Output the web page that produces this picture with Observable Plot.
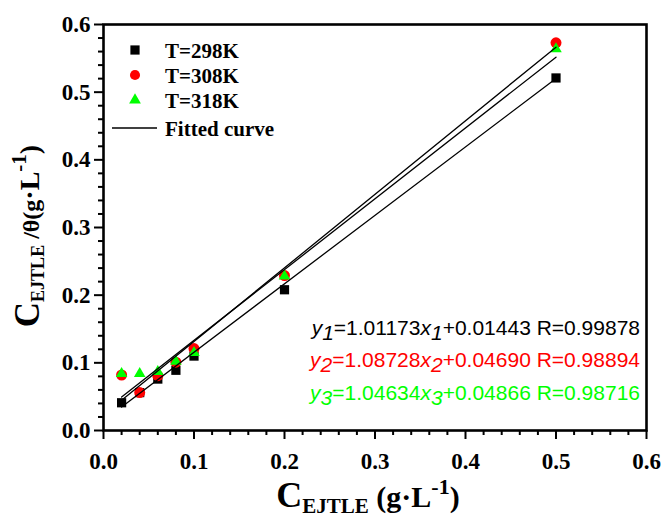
<!DOCTYPE html>
<html>
<head>
<meta charset="utf-8">
<script src="https://cdn.jsdelivr.net/npm/d3@7"></script>
<script src="https://cdn.jsdelivr.net/npm/@observablehq/plot@0.6"></script>
<style>
  html, body { margin: 0; padding: 0; background: #fff; }
  #chart { width: 665px; height: 518px; }
</style>
</head>
<body>
<div id="chart"></div>
<script>
// ---- data ----
const concentration = [0.02, 0.04, 0.06, 0.08, 0.10, 0.20, 0.50];
const y298 = [0.041, 0.056, 0.076, 0.089, 0.110, 0.208, 0.521];
const y308 = [0.082, 0.056, 0.081, 0.101, 0.121, 0.229, 0.573];
const y318 = [0.084, 0.084, 0.087, 0.102, 0.115, 0.228, 0.564];
// fitted lines (end points)
const fitX = [0.02, 0.50];
const fit298 = [0.0347, 0.5203];
const fit308 = [0.0446, 0.5665];
const fit318 = [0.0494, 0.5517];
const seriesNames = ["T=298K", "T=308K", "T=318K"];
const seriesColors = ["#000000", "#ff0000", "#00ff00"];
const majorTicks = [0.0, 0.1, 0.2, 0.3, 0.4, 0.5, 0.6];
const minorTicks = [0.02, 0.04, 0.06, 0.08, 0.12, 0.14, 0.16, 0.18, 0.22, 0.24, 0.26, 0.28,
                    0.32, 0.34, 0.36, 0.38, 0.42, 0.44, 0.46, 0.48, 0.52, 0.54, 0.56, 0.58];
const equations = [
  {y: "y", s: "1", a: "=1.01173", x: "x", b: "+0.01443 R=0.99878"},
  {y: "y", s: "2", a: "=1.08728", x: "x", b: "+0.04690 R=0.98894"},
  {y: "y", s: "3", a: "=1.04634", x: "x", b: "+0.04866 R=0.98716"}
];

const pts = (ys) => concentration.map((c, i) => ({x: c, y: ys[i]}));
const fit = (ys) => fitX.map((c, i) => ({x: c, y: ys[i]}));

const serif = "'Liberation Serif', 'Times New Roman', serif";
const sans = "'Liberation Sans', Arial, sans-serif";

const chart = Plot.plot({
  width: 665,
  height: 518,
  marginLeft: 103,
  marginRight: 19,
  marginTop: 24,
  marginBottom: 88,
  style: {fontFamily: serif, fontWeight: "bold", fontSize: "23px", background: "#fff", color: "#000"},
  x: {domain: [0, 0.6], axis: null},
  y: {domain: [0, 0.6], axis: null},
  marks: [
    Plot.axisX(majorTicks, {tickSize: 9, tickPadding: 13, strokeWidth: 2, tickFormat: d3.format(".1f"), label: null, fontSize: 23, fontWeight: "bold"}),
    Plot.axisX(minorTicks, {tickSize: 5, strokeWidth: 2, tickFormat: () => "", label: null}),
    Plot.axisY(majorTicks, {tickSize: 9, tickPadding: 4, strokeWidth: 2, tickFormat: d3.format(".1f"), label: null, fontSize: 23, fontWeight: "bold"}),
    Plot.axisY(minorTicks, {tickSize: 5, strokeWidth: 2, tickFormat: () => "", label: null}),
    Plot.dot(pts(y298), {x: "x", y: "y", symbol: "square", r: 5.2, fill: seriesColors[0], stroke: "none"}),
    Plot.dot(pts(y308), {x: "x", y: "y", symbol: "circle", r: 5.5, fill: seriesColors[1], stroke: "none"}),
    Plot.dot(pts(y318), {x: "x", y: "y", symbol: "triangle", r: 4.3, fill: seriesColors[2], stroke: "none"}),
    Plot.line(fit(fit298), {x: "x", y: "y", stroke: "#000", strokeWidth: 1.3}),
    Plot.line(fit(fit308), {x: "x", y: "y", stroke: "#000", strokeWidth: 1.3}),
    Plot.line(fit(fit318), {x: "x", y: "y", stroke: "#000", strokeWidth: 1.3}),
    Plot.frame({stroke: "#000", strokeWidth: 2.6})
  ]
});

document.getElementById("chart").appendChild(chart);

// ---- legend, equations and axis titles ----
const svg = d3.select(chart);
const g = svg.append("g").attr("text-anchor", "start");

// legend
const symbols = [d3.symbolSquare, d3.symbolCircle, d3.symbolTriangle];
const symSizes = [85, 80, 60];
seriesNames.forEach((name, i) => {
  const yy = 50 + i * 25;
  g.append("path")
    .attr("d", d3.symbol(symbols[i], symSizes[i])())
    .attr("transform", `translate(135,${yy})`)
    .attr("fill", seriesColors[i]);
  g.append("text")
    .attr("x", 165).attr("y", yy + 7.5)
    .attr("text-anchor", "start")
    .attr("font-family", serif).attr("font-weight", "bold").attr("font-size", 21)
    .attr("fill", "#000")
    .text(name);
});
g.append("line").attr("x1", 112).attr("x2", 157).attr("y1", 128).attr("y2", 128)
  .attr("stroke", "#000").attr("stroke-width", 1.3);
g.append("text")
  .attr("x", 165).attr("y", 135.5)
  .attr("text-anchor", "start")
  .attr("font-family", serif).attr("font-weight", "bold").attr("font-size", 21)
  .attr("fill", "#000")
  .text("Fitted curve");

// equations
const eqBase = [335, 367, 400];
equations.forEach((e, i) => {
  const t = g.append("text")
    .attr("x", 640).attr("y", eqBase[i])
    .attr("text-anchor", "end")
    .attr("font-family", sans).attr("font-weight", "normal").attr("font-size", 21)
    .attr("fill", seriesColors[i]);
  t.append("tspan").attr("font-style", "italic").text(e.y);
  t.append("tspan").attr("font-style", "italic").attr("dy", 5).text(e.s);
  t.append("tspan").attr("dy", -5).text(e.a);
  t.append("tspan").attr("font-style", "italic").text(e.x);
  t.append("tspan").attr("font-style", "italic").attr("dy", 5).text(e.s);
  t.append("tspan").attr("dy", -5).text(e.b);
});

// x axis title
const xt = g.append("text")
  .attr("x", 368).attr("y", 507)
  .attr("text-anchor", "middle")
  .attr("font-family", serif).attr("font-weight", "bold").attr("fill", "#000");
xt.append("tspan").attr("font-size", 36).text("C");
xt.append("tspan").attr("font-size", 21).attr("dy", 6).text("EJTLE");
xt.append("tspan").attr("font-size", 30).attr("dy", -6).text(" (g");
xt.append("tspan").attr("font-size", 30).text("·L");
xt.append("tspan").attr("font-size", 22).attr("dy", -13).text("-1");
xt.append("tspan").attr("font-size", 30).attr("dy", 13).text(")");

// y axis title
const yt = g.append("text")
  .attr("transform", "translate(39,236) rotate(-90)")
  .attr("text-anchor", "middle")
  .attr("font-family", serif).attr("font-weight", "bold").attr("fill", "#000");
yt.append("tspan").attr("font-size", 35).text("C");
yt.append("tspan").attr("font-size", 18).attr("dy", 5).text("EJTLE");
yt.append("tspan").attr("font-size", 24).attr("dy", -5).text(" /θ(g");
yt.append("tspan").attr("font-size", 28).text("·L");
yt.append("tspan").attr("font-size", 21).attr("dy", -13).text("-1");
yt.append("tspan").attr("font-size", 28).attr("dy", 13).text(")");
</script>
</body>
</html>
